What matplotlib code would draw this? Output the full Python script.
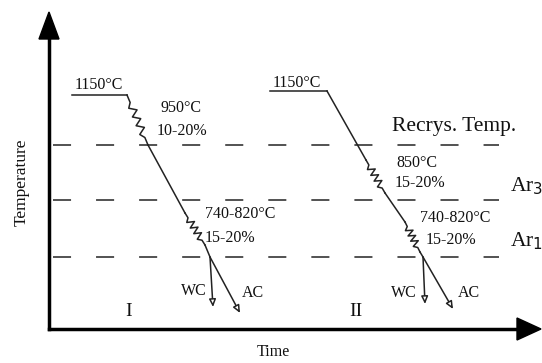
import numpy as np
import matplotlib.pyplot as plt

plt.rcParams['font.family'] = ['Liberation Serif', 'DejaVu Serif']
plt.rcParams['lines.scale_dashes'] = False

# schematic in image-like units (x right, y down)
levels = [145, 200, 257]          # Recrys., Ar3, Ar1
level_names = ['Recrys. Temp.', 'Ar$_3$', 'Ar$_1$']

# schedule I: (kind, start, end)
path_1 = [('line', (72, 95), (127, 95)),
          ('zig', (127, 95), (148, 145)),
          ('line', (148, 145), (185, 213)),
          ('zig', (185, 213), (205, 245)),
          ('line', (205, 245), (210, 257))]
cool_1 = [(210, 257), (213, 307), (240, 313)]

# schedule II
path_2 = [('line', (270, 91), (327, 91)),
          ('line', (327, 91), (366, 160)),
          ('zig', (366, 160), (385, 193)),
          ('line', (385, 193), (405, 222)),
          ('zig', (405, 222), (420, 252)),
          ('line', (420, 252), (423, 257))]
cool_2 = [(423, 257), (425, 304), (453, 309)]

labels = [('1150°C', 99, 85), ('950°C', 181, 108), ('10-20%', 182, 131),
          ('740-820°C', 240, 214), ('15-20%', 230, 238),
          ('WC', 194, 291), ('AC', 253, 293),
          ('1150°C', 297, 83), ('850°C', 417, 163), ('15-20%', 420, 183),
          ('740-820°C', 455, 218), ('15-20%', 451, 240),
          ('WC', 404, 293), ('AC', 469, 293)]
numerals = [('I', 129, 312), ('II', 356, 311)]


def zigzag(p0, p1, n=4, amp=3.5):
    p0, p1 = np.array(p0, float), np.array(p1, float)
    d = p1 - p0
    L = np.hypot(*d)
    u = d / L
    nrm = np.array([-u[1], u[0]])
    t = np.linspace(0.15, 0.85, 2 * n + 1)
    pts = [p0, p0 + u * L * 0.15]
    for i, ti in enumerate(t[1:-1]):
        s = amp if i % 2 == 0 else -amp
        pts.append(p0 + u * L * ti + nrm * s)
    pts += [p0 + u * L * 0.85, p1]
    return np.array(pts)


fig = plt.figure(figsize=(5.42, 3.63), dpi=100)
ax = fig.add_axes([0, 0, 1, 1])
ax.set_xlim(0, 542)
ax.set_ylim(363, 0)
ax.axis('off')

# axes with arrows
ax.plot([49, 49], [329, 36], color='black', lw=2.5)
ax.plot([49, 522], [329, 329], color='black', lw=2.5)
ax.fill([39, 59, 49], [39, 39, 12], color='black')
ax.fill([517, 517, 541], [318, 340, 329], color='black')

# dashed reference levels
ax.hlines(levels, 53, 499, colors='#444444', lw=1.3, linestyles=[(0, (13, 18))])
ax.text(454, 126, level_names[0], fontsize=15.5, ha='center', va='center', color='#111111')
ax.text(510, 186, level_names[1], fontsize=15.5, ha='left', va='center', color='#111111')
ax.text(510, 241, level_names[2], fontsize=15.5, ha='left', va='center', color='#111111')

for path in (path_1, path_2):
    for kind, a, b in path:
        if kind == 'line':
            ax.plot([a[0], b[0]], [a[1], b[1]], color='#222222', lw=1.1)
        else:
            z = zigzag(a, b)
            ax.plot(z[:, 0], z[:, 1], color='#222222', lw=1.1)

for start, wc, ac in (cool_1, cool_2):
    for end in (wc, ac):
        ax.annotate('', xy=end, xytext=start,
                    arrowprops=dict(arrowstyle='-|>,head_length=0.45,head_width=0.2',
                                    color='#222222', lw=1.1, fc='white',
                                    shrinkA=0, shrinkB=0))

for s, x, y in labels:
    ax.text(x, y, s, fontsize=11.5, ha='center', va='center', color='#111111')
for s, x, y in numerals:
    ax.text(x, y, s, fontsize=14, ha='center', va='center', color='#111111')

ax.text(273, 352, 'Time', fontsize=11.5, ha='center', va='center', color='#111111')
ax.text(22, 182, 'Temperature', fontsize=12.5, rotation=90, ha='center', va='center',
        color='#111111')

fig.savefig('out.png', dpi=100)
